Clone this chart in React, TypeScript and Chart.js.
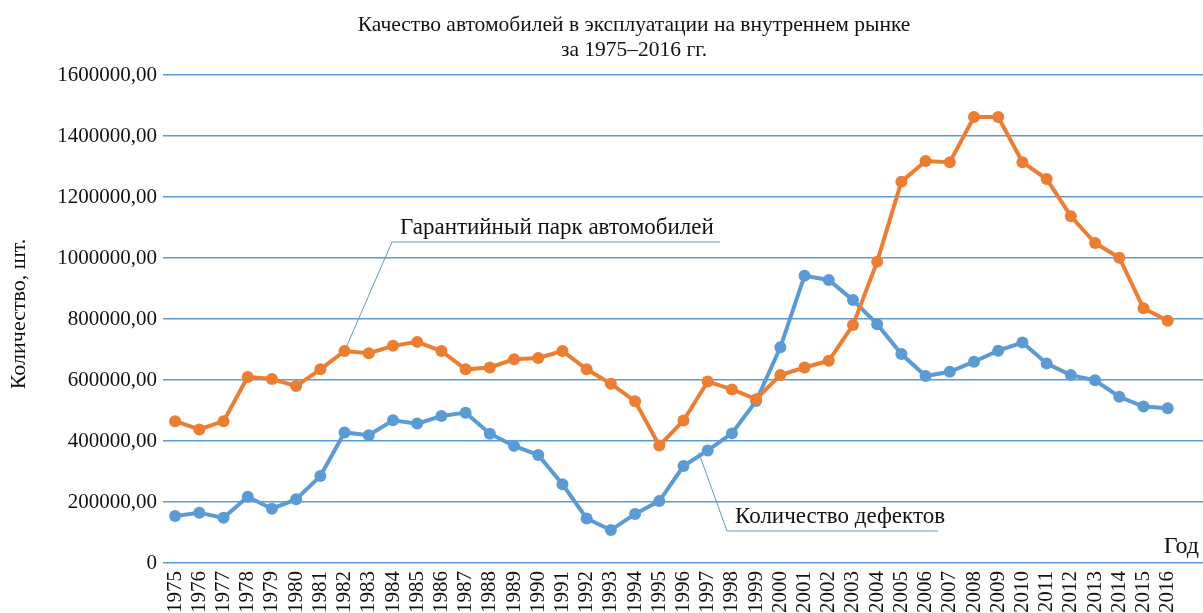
import React, { useEffect, useRef } from "react";
import { Chart, registerables } from "chart.js";

Chart.register(...registerables);

const years: string[] = [
  "1975","1976","1977","1978","1979","1980","1981","1982","1983","1984",
  "1985","1986","1987","1988","1989","1990","1991","1992","1993","1994",
  "1995","1996","1997","1998","1999","2000","2001","2002","2003","2004",
  "2005","2006","2007","2008","2009","2010","2011","2012","2013","2014",
  "2015","2016",
];

const warrantyFleet: number[] = [
  465000, 438000, 465000, 610000, 603000, 580000, 635000, 695000, 688000, 712000,
  725000, 695000, 635000, 641000, 668000, 672000, 695000, 635000, 588000, 530000,
  385000, 467000, 595000, 569000, 537000, 616000, 641000, 663000, 780000, 988000,
  1250000, 1318000, 1314000, 1462000, 1462000, 1314000, 1259000, 1137000, 1049000, 1001000,
  835000, 794000,
];

const defects: number[] = [
  154000, 165000, 148000, 217000, 178000, 209000, 285000, 428000, 419000, 468000,
  457000, 482000, 493000, 424000, 384000, 354000, 258000, 146000, 108000, 161000,
  203000, 318000, 369000, 425000, 531000, 707000, 942000, 928000, 862000, 783000,
  685000, 613000, 627000, 660000, 696000, 723000, 654000, 616000, 599000, 545000,
  513000, 507000,
];

const yTicks: number[] = [0, 200000, 400000, 600000, 800000, 1000000, 1200000, 1400000, 1600000];

const titleLines: string[] = [
  "Качество автомобилей в эксплуатации на внутреннем рынке",
  "за 1975–2016 гг.",
];
const yAxisTitle = "Количество, шт.";
const xAxisTitle = "Год";
const seriesNames: string[] = ["Гарантийный парк автомобилей", "Количество дефектов"];

const FONT = '"Liberation Serif", "Times New Roman", serif';
const ORANGE = "#ED7D31";
const BLUE = "#5B9BD5";
const GRID = "#5B9BD5";
const TEXT = "#111111";

const overlayPlugin = {
  id: "overlay",
  beforeDatasetsDraw(chart: any) {
    const ctx = chart.ctx;
    const x = chart.scales.x;
    const y = chart.scales.y;
    ctx.save();
    ctx.strokeStyle = BLUE;
    ctx.lineWidth = 1;
    const i82 = years.indexOf("1982");
    const px1 = x.getPixelForValue(i82);
    const py1 = y.getPixelForValue(warrantyFleet[i82]);
    ctx.beginPath();
    ctx.moveTo(px1, py1);
    ctx.lineTo(392, 242);
    ctx.lineTo(720, 242);
    ctx.stroke();
    const i97 = years.indexOf("1997");
    const px2 = x.getPixelForValue(i97) - 9;
    const py2 = y.getPixelForValue(defects[i97]) + 2;
    ctx.beginPath();
    ctx.moveTo(px2, py2);
    ctx.lineTo(727, 531);
    ctx.lineTo(938, 531);
    ctx.stroke();
    ctx.restore();
  },
  afterDraw(chart: any) {
    const ctx = chart.ctx;
    ctx.save();
    ctx.fillStyle = TEXT;
    ctx.textBaseline = "middle";
    ctx.textAlign = "center";
    ctx.font = `21.5px ${FONT}`;
    ctx.fillText(titleLines[0], 634, 25);
    ctx.fillText(titleLines[1], 634, 50);

    ctx.font = `23px ${FONT}`;
    ctx.textAlign = "left";
    ctx.fillText(seriesNames[0], 400, 228);
    ctx.fillText(seriesNames[1], 735, 517);

    ctx.font = `24px ${FONT}`;
    ctx.textAlign = "right";
    ctx.fillText(xAxisTitle, 1199, 547);

    ctx.translate(19, 314);
    ctx.rotate(-Math.PI / 2);
    ctx.textAlign = "center";
    ctx.font = `22px ${FONT}`;
    ctx.fillText(yAxisTitle, 0, 0);
    ctx.restore();
  },
};

export default function App() {
  const ref = useRef<HTMLCanvasElement | null>(null);

  useEffect(() => {
    if (!ref.current) return;
    const labels = [...years, ""];
    const chart = new Chart(ref.current, {
      type: "line",
      data: {
        labels,
        datasets: [
          {
            label: seriesNames[0],
            data: warrantyFleet,
            borderColor: ORANGE,
            backgroundColor: ORANGE,
            borderWidth: 4,
            pointRadius: 6,
            pointHoverRadius: 6,
            pointBackgroundColor: ORANGE,
            pointBorderColor: ORANGE,
            pointBorderWidth: 0,
            tension: 0,
          },
          {
            label: seriesNames[1],
            data: defects,
            borderColor: BLUE,
            backgroundColor: BLUE,
            borderWidth: 4,
            pointRadius: 6,
            pointHoverRadius: 6,
            pointBackgroundColor: BLUE,
            pointBorderColor: BLUE,
            pointBorderWidth: 0,
            tension: 0,
          },
        ],
      },
      options: {
        responsive: false,
        animation: false,
        devicePixelRatio: 1,
        layout: { padding: { top: 75, left: 0, right: 0, bottom: 0 } },
        plugins: {
          legend: { display: false },
          title: { display: false },
          tooltip: { enabled: false },
        },
        scales: {
          x: {
            type: "category",
            offset: true,
            grid: { display: false, drawTicks: false },
            border: { display: false },
            ticks: {
              autoSkip: false,
              minRotation: 90,
              maxRotation: 90,
              padding: 8,
              color: TEXT,
              font: { family: FONT, size: 21 },
            },
            afterFit: (s: any) => {
              s.height = 50;
              s.paddingLeft = 0;
              s.paddingRight = 0;
            },
          },
          y: {
            min: 0,
            max: 1600000,
            afterBuildTicks: (s: any) => {
              s.ticks = yTicks.map((v) => ({ value: v }));
            },
            grid: { color: GRID, lineWidth: 1.5, drawTicks: false },
            border: { display: false },
            ticks: {
              padding: 6,
              color: TEXT,
              font: { family: FONT, size: 21 },
              callback: (v: any) =>
                Number(v) === 0 ? "0" : Number(v).toFixed(2).replace(".", ","),
            },
            afterFit: (s: any) => {
              s.width = 163;
              s.paddingTop = 0;
              s.paddingBottom = 0;
            },
          },
        },
      },
      plugins: [overlayPlugin],
    });
    return () => chart.destroy();
  }, []);

  return (
    <div
      style={{
        position: "fixed",
        left: 0,
        top: 0,
        width: 1203,
        height: 613,
        overflow: "hidden",
        background: "#fff",
      }}
    >
      <canvas ref={ref} width={1210} height={613} style={{ display: "block" }} />
    </div>
  );
}
